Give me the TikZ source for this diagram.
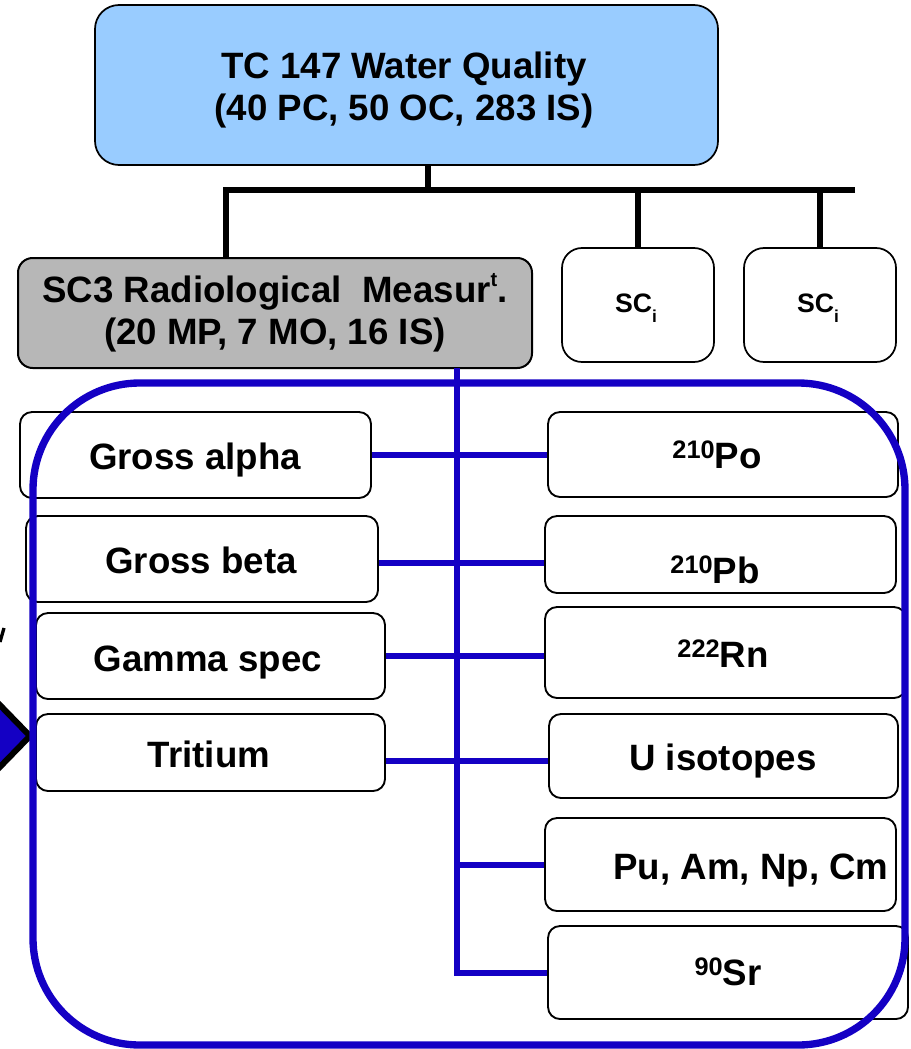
\documentclass[tikz,border=0pt]{standalone}
\usepackage{tikz}
\usepackage{fontspec}
\setmainfont{Liberation Sans}

\definecolor{tcblue}{RGB}{153,204,255}
\definecolor{scgray}{RGB}{183,183,183}
\definecolor{radblue}{RGB}{20,0,196}
\newcommand{\isonum}[1]{\raisebox{7.5pt}{\fontsize{19}{19}\selectfont #1}}

\tikzset{every picture/.style={line width=0.75pt}}
\tikzset{
	boxsize/.style 2 args={minimum width=#1*0.75pt, minimum height=#2*0.75pt, inner sep=0pt},
	tcbox/.style={draw, fill=tcblue, rounded corners=18pt, line width=1.3pt},
	scbox/.style={draw, fill=scgray, rounded corners=11pt, line width=1.5pt},
	subbox/.style={draw, fill=white, rounded corners=15pt, line width=1.3pt},
	itembox/.style={draw, fill=white, rounded corners=9pt, line width=1.4pt},
	tree/.style={line width=4pt},
	blueline/.style={draw=radblue, line width=4.5pt},
	bigtxt/.style={font=\bfseries\fontsize{27.5}{31.5}\selectfont, inner sep=0pt},
	smalltxt/.style={font=\bfseries\fontsize{20}{22}\selectfont, inner sep=0pt},
}

\begin{document}
\begin{tikzpicture}[x=0.75pt,y=0.75pt,yscale=-1,xscale=1]
		\clip (0,0) rectangle (910,1049);

		%Shape: Rounded Rect
		\node[tcbox, boxsize={623}{160}] (tc) at (406.5,85) {};
		%Shape: Rounded Rect
		\node[scbox, boxsize={514}{110}] (sc3) at (275,313) {};
		%Shape: Rounded Rect
		\node[subbox, boxsize={152}{114}] (sci1) at (638,305) {};
		%Shape: Rounded Rect
		\node[subbox, boxsize={152}{114}] (sci2) at (820,305) {};

		%Shape: Rounded Rect
		\node[itembox, boxsize={351}{86}] (alpha) at (195.5,455) {};
		\node[itembox, boxsize={352}{86}] (beta) at (202,559) {};
		\node[itembox, boxsize={349}{86}] (gamma) at (210.5,656) {};
		\node[itembox, boxsize={349}{77}] (trit) at (210.5,752.5) {};
		%Shape: Rounded Rect
		\node[itembox, boxsize={350}{85}] (po) at (723,454.5) {};
		\node[itembox, boxsize={351}{77}] (pb) at (720.5,554.5) {};
		\node[itembox, boxsize={361}{91}] (rn) at (725.5,652.5) {};
		\node[itembox, boxsize={349}{84}] (uiso) at (723.5,756) {};
		\node[itembox, boxsize={351}{93}] (pu) at (720.5,864.5) {};
		\node[itembox, boxsize={360}{93}] (sr) at (728,972.5) {};

		%Straight Lines
		\coordinate (busL) at (226,190);
		\coordinate (busR) at (855,190);
		\coordinate (tcdrop) at (428,165);
		\draw[tree] (tcdrop) -- (tcdrop |- busL);
		\draw[tree] (busR) -- (busL) -- (busL |- sc3.north);
		\draw[tree] (sci1.north |- busL) -- (sci1.north);
		\draw[tree] (sci2.north |- busL) -- (sci2.north);

		%Straight Lines
		\coordinate (trunk) at (457,368);
		\draw[blueline] (trunk) |- (sr.west);
		\draw[blueline] (alpha.east) -- (alpha.east -| po.west);
		\draw[blueline] ([yshift=3pt]beta.east) -- ([yshift=3pt]beta.east -| pb.west);
		\draw[blueline] (gamma.east) -- (gamma.east -| rn.west);
		\draw[blueline] ([yshift=6pt]trit.east) -- ([yshift=6pt]trit.east -| uiso.west);
		\draw[blueline] (pu.west -| trunk) -- (pu.west);

		%Shape: Right Arrow
		\draw[fill=radblue, line width=4.5pt, miter limit=4] (-40,664) -- (30,736) -- (-40,808);
		%Straight Lines
		\draw[line width=2.5pt] (0,642) -- (4,628);

		%Shape: Rounded Rect
		\draw[radblue, line width=5.5pt, rounded corners=80pt] (33,383) rectangle (905,1045);

		% Text Node
		\node[bigtxt, align=center] (tctxt) at (404,90.5) {TC 147 Water Quality\\(40 PC, 50 OC, 283 IS)};
		% Text Node
		\node[bigtxt, align=center] (sc3txt) at (275,313) {SC3 Radiological\ \ Measur\raisebox{12pt}{\fontsize{15}{15}\selectfont t}.\\(20 MP, 7 MO, 16 IS)};
		% Text Node
		\node[smalltxt, anchor=base] (sci1txt) at (636,312) {SC\raisebox{-8pt}{\fontsize{13}{13}\selectfont i}};
		% Text Node
		\node[smalltxt, anchor=base] (sci2txt) at (818,312) {SC\raisebox{-8pt}{\fontsize{13}{13}\selectfont i}};
		% Text Node
		\node[bigtxt, anchor=base] (alphatxt) at (195,469) {Gross alpha};
		% Text Node
		\node[bigtxt, anchor=base] (betatxt) at (201,573) {Gross beta};
		% Text Node
		\node[bigtxt, anchor=base] (gammatxt) at (208,671) {Gamma spec};
		% Text Node
		\node[bigtxt, anchor=base] (trittxt) at (209,767) {Tritium};
		% Text Node
		\node[bigtxt, anchor=base] (potxt) at (717,468) {\isonum{210}Po};
		% Text Node
		\node[bigtxt, anchor=base] (pbtxt) at (715,583) {\isonum{210}Pb};
		% Text Node
		\node[bigtxt, anchor=base] (rntxt) at (723,667) {\isonum{222}Rn};
		% Text Node
		\node[bigtxt, anchor=base] (utxt) at (723,770) {U isotopes};
		% Text Node
		\node[bigtxt, anchor=base] (putxt) at (751,879) {Pu, Am, Np, Cm};
		% Text Node
		\node[bigtxt, anchor=base] (srtxt) at (728,985) {\isonum{90}Sr};

\end{tikzpicture}
\end{document}
